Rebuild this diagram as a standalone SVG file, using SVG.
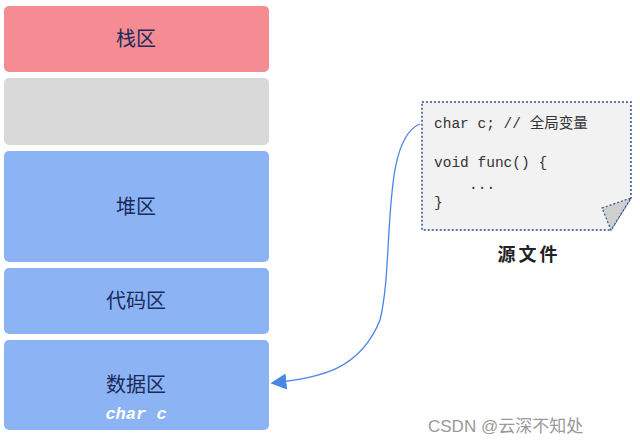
<svg xmlns="http://www.w3.org/2000/svg" width="640" height="446" viewBox="0 0 640 446">
<style>
.lbl{font-family:"Noto Sans CJK SC","Noto Sans",sans-serif;font-size:20px;fill:#1a2a5a;text-anchor:middle}
.code{font-family:"Liberation Mono","Noto Sans CJK SC",monospace;font-size:14.5px;fill:#333}
.blue{fill:#8cb4f5}
</style>
<defs><marker id="ah" viewBox="0 0 10 10" refX="9" refY="5" markerWidth="16" markerHeight="16" markerUnits="userSpaceOnUse" orient="auto"><path d="M0,0 L10,5 L0,10 z" fill="#4a86e8"/></marker></defs>
<rect width="640" height="446" fill="#fff"/>
<g id="stack"><rect x="4" y="6" width="265" height="66" rx="5" fill="#f58b93"/><text class="lbl" x="136" y="46">栈区</text></g>
<g id="gap"><rect x="4" y="78" width="265" height="67" rx="5" fill="#d9d9d9"/></g>
<g id="heap"><rect x="4" y="151" width="265" height="111" rx="5" class="blue"/><text class="lbl" x="136" y="214">堆区</text></g>
<g id="code"><rect x="4" y="268" width="265" height="66" rx="5" class="blue"/><text class="lbl" x="136" y="308">代码区</text></g>
<g id="data"><rect x="4" y="340" width="265" height="90" rx="5" class="blue"/><text class="lbl" x="136" y="392">数据区</text>
<text x="136" y="419" text-anchor="middle" font-family="Liberation Mono,monospace" font-weight="bold" font-style="italic" font-size="17" fill="#fff">char c</text></g>
<g id="file">
<path d="M422,102 L631,102 L631,198 L611,230 L422,230 Z" fill="#f2f2f2" stroke="#2f4f8f" stroke-width="1.5" stroke-dasharray="2,2"/>
<path d="M602,208 L631,198 L611,230 Z" fill="#cfcfcf" stroke="#2f4f8f" stroke-width="1.2" stroke-dasharray="2,2"/>
<text class="code" x="434" y="128">char c; // 全局变量</text>
<text class="code" x="434" y="167">void func() {</text>
<text class="code" x="469" y="189">...</text>
<text class="code" x="434" y="207">}</text>
<text x="529" y="261" text-anchor="middle" font-family="Noto Sans CJK SC,sans-serif" font-weight="bold" font-size="18" fill="#222" letter-spacing="3">源文件</text>
</g>
<g id="connectors"><path d="M420,124 C380,140 395,260 380,320 C360,370 320,378 272,383" fill="none" stroke="#4a86e8" stroke-width="1.3" marker-end="url(#ah)"/></g>
<text x="428" y="432" font-family="Liberation Sans,Noto Sans CJK SC,sans-serif" font-size="17" fill="#999">CSDN @云深不知处</text>
</svg>
